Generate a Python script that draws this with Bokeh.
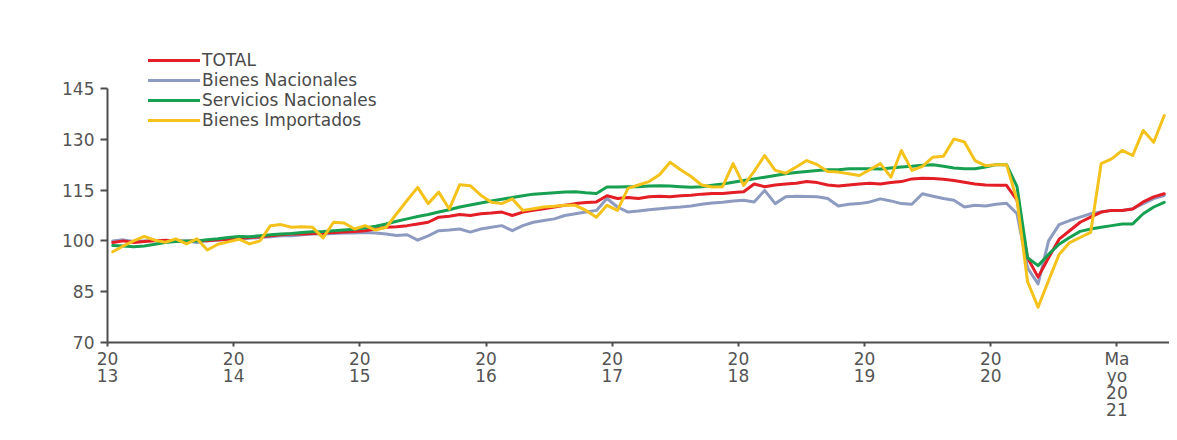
from bokeh.plotting import figure
from bokeh.models import FixedTicker, Legend, LegendItem, Range1d
from bokeh.embed import file_html
from bokeh.resources import INLINE

# Monthly data, Jan 2013 .. May 2021 (101 months)
month_index = list(range(101))

tick_positions = [0, 12, 24, 36, 48, 60, 72, 84, 96]
tick_labels = ["20\n13", "20\n14", "20\n15", "20\n16", "20\n17",
               "20\n18", "20\n19", "20\n20", "Ma\nyo\n20\n21"]
y_ticks = [70, 85, 100, 115, 130, 145]

series_names = ["TOTAL", "Bienes Nacionales", "Servicios Nacionales", "Bienes Importados"]

total = [
    99.5, 100, 99.5, 99.8, 100, 100.2, 100, 99.8, 100.2, 100, 100.3, 100.5,
    100.8, 101, 101.2, 101.5, 101.8, 102, 102, 102.2, 102.3, 102.5, 102.6, 102.8,
    103, 103.5, 104, 104.2, 104.5, 105, 105.5, 107, 107.3, 107.8, 107.5, 108,
    108.2, 108.5, 107.5, 108.5, 109, 109.5, 110, 110.5, 111, 111.3, 111.5, 113.3,
    112.5, 112.8, 112.5, 113, 113.2, 113, 113.3, 113.5, 113.8, 114, 114, 114.3,
    114.5, 116.8, 116, 116.5, 116.8, 117, 117.5, 117.2, 116.5, 116.2, 116.5, 116.8,
    117, 116.8, 117.2, 117.5, 118.3, 118.5, 118.4, 118.2, 117.8, 117.3, 116.8, 116.5,
    116.4, 116.4, 112, 95, 89.3, 95, 100.5, 103, 105.5, 107, 108.5, 109,
    109, 109.4, 111.5, 113, 113.9,
]

bienes_nacionales = [
    100, 100.3, 99.8, 100, 100.2, 99.8, 100, 100, 99.5, 100, 100.2, 100.5,
    100.5, 100.8, 101, 101.2, 101.5, 101.5, 101.8, 102, 102, 102.2, 102.3, 102.3,
    102.5, 102.3, 102, 101.6, 101.8, 100.2, 101.5, 103, 103.2, 103.5, 102.6, 103.5,
    104, 104.5, 103, 104.5, 105.5, 106, 106.5, 107.5, 108, 108.5, 109, 112.5,
    110, 108.5, 108.8, 109.2, 109.5, 109.8, 110, 110.3, 110.8, 111.2, 111.4, 111.8,
    112, 111.5, 114.9, 111, 113, 113.2, 113.1, 113, 112.5, 110.3, 110.8, 111,
    111.5, 112.4, 111.8, 111, 110.8, 113.9, 113.2, 112.5, 112, 110, 110.5, 110.3,
    110.8, 111.1, 108, 92, 87.3, 100, 104.8, 106, 107, 108, 108.5, 109,
    109, 109.5, 111, 112.5, 113.4,
]

servicios_nacionales = [
    98.6, 98.5, 98.3, 98.5, 99, 99.5, 99.8, 100, 100, 100.3, 100.6, 101,
    101.3, 101.2, 101.5, 101.8, 102, 102.2, 102.5, 102.7, 102.8, 103, 103.2, 103.4,
    103.8, 104.3, 105, 105.8, 106.5, 107.2, 107.8, 108.5, 109.2, 110, 110.6, 111.2,
    111.8, 112.3, 112.8, 113.3, 113.8, 114, 114.2, 114.4, 114.5, 114.2, 114, 115.9,
    115.9, 116, 116, 116.2, 116.3, 116.2, 116, 115.8, 116, 116.4, 116.8, 117.3,
    117.8, 118.3, 118.8, 119.3, 119.8, 120.2, 120.5, 120.8, 121, 121, 121.3, 121.3,
    121.3, 121.2, 121.5, 121.8, 122, 122.3, 122.5, 122, 121.5, 121.3, 121.3, 121.8,
    122.5, 122.5, 116, 95, 92.7, 96, 99, 101, 102.8, 103.5, 104, 104.5,
    105, 105, 108, 110, 111.4,
]

bienes_importados = [
    96.8, 98.5, 100, 101.3, 100.2, 99.6, 100.6, 99.1, 100.6, 97.3, 99, 99.7,
    100.5, 99.1, 100, 104.5, 104.8, 104, 104.2, 104, 100.9, 105.5, 105.3, 103.5,
    104.5, 103.2, 104, 108, 112, 115.8, 111, 114.4, 109.4, 116.6, 116.3, 113.5,
    111.4, 111, 112.4, 109, 109.5, 110, 110.2, 110.5, 110.5, 109, 107, 110.5,
    109, 115.5, 116.5, 117.5, 119.5, 123.2, 121, 119, 116.5, 115.9, 116, 122.8,
    116.4, 120.5, 125.2, 120.8, 120, 121.8, 123.7, 122.5, 120.5, 120.3, 119.8, 119.3,
    121, 122.8, 118.8, 126.7, 120.8, 122, 124.7, 125, 130.1, 129.2, 123.7, 122.2,
    122.5, 122.5, 112, 88, 80.4, 88.3, 96, 99.5, 101, 102.5, 122.8, 124.2,
    126.7, 125.2, 132.6, 129.1, 137,
]

colors = ["#E31E26", "#8E9BC0", "#17A052", "#F4C21B"]

x = [m + 0.5 for m in month_index]

p = figure(width=1169, height=440, output_backend="svg", toolbar_location=None,
           x_range=Range1d(0, 101), y_range=Range1d(70, 162.4),
           min_border_left=107, min_border_right=0, min_border_top=29, min_border_bottom=98)
p.outline_line_color = None
p.xgrid.visible = False
p.ygrid.visible = False
p.background_fill_color = "white"
p.border_fill_color = "white"

data = {"TOTAL": total, "Bienes Nacionales": bienes_nacionales,
        "Servicios Nacionales": servicios_nacionales, "Bienes Importados": bienes_importados}
col = dict(zip(series_names, colors))
renderers = {}
for name in ["Bienes Nacionales", "TOTAL", "Servicios Nacionales", "Bienes Importados"]:
    renderers[name] = p.line(x, data[name], line_color=col[name], line_width=3,
                             line_join="round", line_cap="round")

legend = Legend(items=[LegendItem(label=n, renderers=[renderers[n]]) for n in series_names],
                location=(41, 212))
legend.background_fill_alpha = 0
legend.border_line_color = None
legend.padding = 0
legend.margin = 0
legend.spacing = 0
legend.label_height = 18
legend.glyph_height = 18
legend.glyph_width = 52
legend.label_standoff = 2
legend.label_text_font = "DejaVu Sans"
legend.label_text_font_size = "17px"
legend.label_text_line_height = 1.0
legend.label_text_color = "#4a4a4a"
legend.label_text_baseline = "middle"
p.add_layout(legend, "center")

axis_color = "#4d4d4d"
for ax in (p.xaxis[0], p.yaxis[0]):
    ax.axis_line_color = axis_color
    ax.axis_line_width = 2
    ax.major_tick_line_color = axis_color
    ax.major_tick_line_width = 2
    ax.minor_tick_line_color = None
    ax.major_label_text_font = "DejaVu Sans"
    ax.major_label_text_font_size = "17px"
    ax.major_label_text_color = "#555555"

p.yaxis.ticker = FixedTicker(ticks=y_ticks)
p.yaxis.bounds = (70, 145)
p.yaxis.major_tick_in = 0
p.yaxis.major_tick_out = 7
p.yaxis.major_label_standoff = 6

p.xaxis.ticker = FixedTicker(ticks=tick_positions)
p.xaxis.major_label_overrides = {t: l for t, l in zip(tick_positions, tick_labels)}
p.xaxis.major_label_text_line_height = 0.85
p.xaxis.major_tick_in = 0
p.xaxis.major_tick_out = 4
p.xaxis.major_label_standoff = 2

open("out.html", "w").write(file_html(p, INLINE))
